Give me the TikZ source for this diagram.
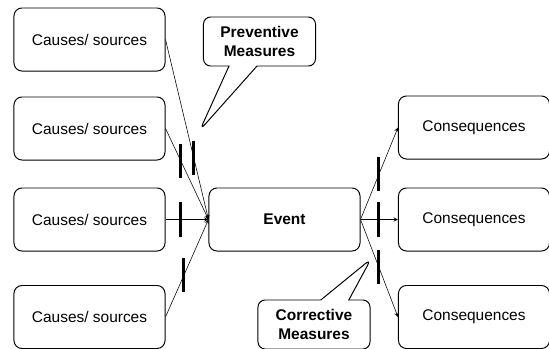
\documentclass[tikz,border=0pt]{standalone}
\usepackage{fontspec}
\setmainfont{Liberation Sans}
\usetikzlibrary{shapes.callouts}
\tikzset{>=stealth}
\tikzset{
  box/.style={draw, line width=0.7pt, rounded corners=0.2cm,
    minimum width=3.775cm, minimum height=1.575cm,
    font=\fontsize{11}{13}\selectfont},
  barrier/.style={fill=black, inner sep=0pt,
    minimum width=0.075cm, minimum height=0.85cm},
  measure/.style={rectangle callout, draw, line width=0.7pt,
    rounded corners=0.18cm, align=center,
    minimum width=2.8cm, minimum height=1.225cm,
    callout pointer width=0.7cm,
    font=\fontsize{11}{13}\selectfont\bfseries}
}

\begin{document}
\begin{tikzpicture}[x=0.025cm, y=-0.025cm]
    \clip (0,0) rectangle (549,349);
    % causes
    \node[box] (c1) at (89.5,39.5) {Causes/ sources};
    \node[box] (c2) at (89.5,128.5) {Causes/ sources};
    \node[box] (c3) at (89.5,219.5) {Causes/ sources};
    \node[box] (c4) at (89.5,317) {Causes/ sources};
    % event
    \node[box, font=\fontsize{11}{13}\selectfont\bfseries] (ev) at (284.5,219.5) {Event};
    % consequences
    \node[box] (q1) at (474,127.5) {Consequences};
    \node[box] (q2) at (474,219.5) {Consequences};
    \node[box] (q3) at (474,317) {Consequences};
    % lines with barriers
    \draw[->] (c1.east) -- node[barrier, pos=0.66] (b1) {} (ev.west);
    \draw[->] (c2.east) -- node[barrier, pos=0.36] (b2) {} (ev.west);
    \draw[->] (c3.east) -- node[barrier, pos=0.36] (b3) {} (ev.west);
    \draw[->] (c4.east) -- node[barrier, pos=0.43] (b4) {} (ev.west);
    \draw[->] (ev.east) -- node[barrier, pos=0.49] (b5) {} (q1.west);
    \draw[->] (ev.east) -- node[barrier, pos=0.49] (b6) {} (q2.west);
    \draw[->] (ev.east) -- node[barrier, pos=0.49] (b7) {} (q3.west);
    % callouts
    \node[measure, fill=white, callout absolute pointer={(200,130)}] (pm)
        at (259.5,41.5) {Preventive\\Measures};
    \node[measure, fill=white, callout absolute pointer={(371,259)}] (cm)
        at (314,324.5) {Corrective\\Measures};
\end{tikzpicture}
\end{document}
